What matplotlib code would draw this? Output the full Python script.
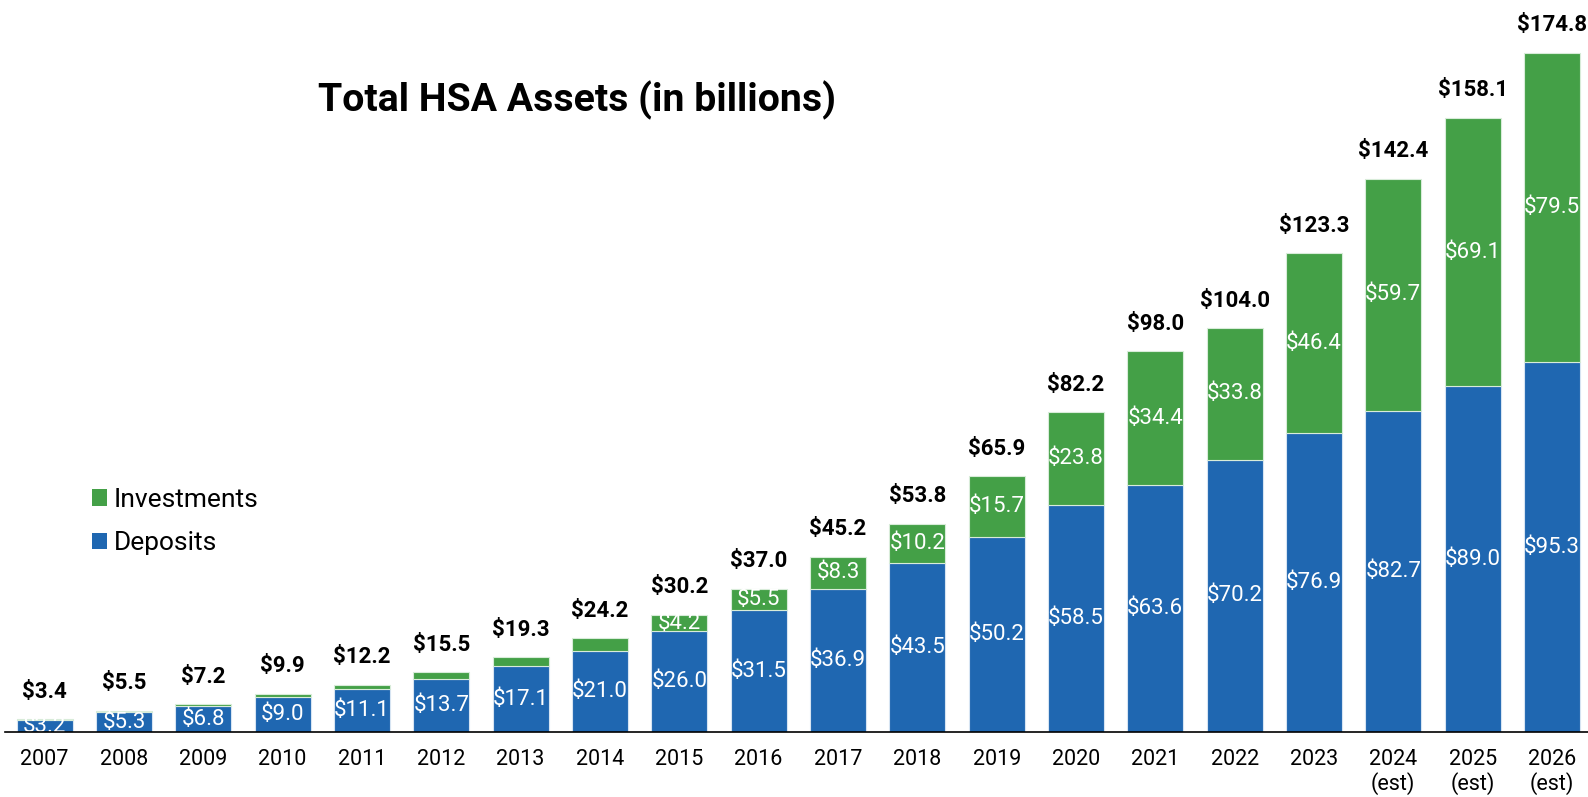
import matplotlib
matplotlib.use("Agg")
import matplotlib.pyplot as plt
import numpy as np

years = ["2007", "2008", "2009", "2010", "2011", "2012", "2013", "2014", "2015", "2016",
         "2017", "2018", "2019", "2020", "2021", "2022", "2023", "2024\n(est)", "2025\n(est)", "2026\n(est)"]
deposits = [3.2, 5.3, 6.8, 9.0, 11.1, 13.7, 17.1, 21.0, 26.0, 31.5,
            36.9, 43.5, 50.2, 58.5, 63.6, 70.2, 76.9, 82.7, 89.0, 95.3]
investments = [0.2, 0.2, 0.4, 0.9, 1.1, 1.8, 2.2, 3.2, 4.2, 5.5,
               8.3, 10.2, 15.7, 23.8, 34.4, 33.8, 46.4, 59.7, 69.1, 79.5]
totals = [3.4, 5.5, 7.2, 9.9, 12.2, 15.5, 19.3, 24.2, 30.2, 37.0,
          45.2, 53.8, 65.9, 82.2, 98.0, 104.0, 123.3, 142.4, 158.1, 174.8]

plt.rcParams['font.family'] = ['Roboto', 'DejaVu Sans']

BLUE = "#1f67b1"
GREEN = "#44a047"

W, H = 1588, 797
base_y = 732.3
step = 79.33
fig = plt.figure(figsize=(W / 100, H / 100), dpi=100)
ax = fig.add_axes([5 / W, 1 - base_y / H, 20 * step / W, base_y / H])

x = np.arange(len(years))
w = 0.706
b1 = ax.bar(x, deposits, w, color=BLUE, edgecolor="#d6e4f2", linewidth=0.8, label="Deposits", zorder=2)
b2 = ax.bar(x, investments, w, bottom=deposits, color=GREEN, edgecolor="#d8ecd9", linewidth=0.8,
            label="Investments", zorder=2)

for i in range(len(years)):
    ax.text(x[i], deposits[i] / 2, f"${deposits[i]:.1f}", ha="center", va="center",
            color="white", fontsize=16, clip_on=True, zorder=3)
    if investments[i] >= 4:
        ax.text(x[i], deposits[i] + investments[i] / 2, f"${investments[i]:.1f}", ha="center",
                va="center", color="white", fontsize=16, zorder=3)
    ax.annotate(f"${totals[i]:.1f}", (x[i], deposits[i] + investments[i]), xytext=(0, 15.5),
                textcoords="offset points", ha="center", va="baseline", fontsize=16,
                fontweight="bold", color="black", annotation_clip=False)

ax.set_xlim(-0.5, len(years) - 0.5)
ax.set_ylim(0, base_y / 3.886)
ax.set_xticks(x)
ax.set_xticklabels(years, fontsize=15.5, linespacing=1.1)
ax.tick_params(axis="x", length=0, pad=12)
ax.set_yticks([])
for s in ["left", "right", "top"]:
    ax.spines[s].set_visible(False)
ax.spines["bottom"].set_color("black")
ax.spines["bottom"].set_linewidth(1.2)
ax.spines["bottom"].set_zorder(4)

fig.text(577 / W, 1 - 100 / H, "Total HSA Assets (in billions)", ha="center", va="center",
         fontsize=28.3, fontweight="bold")

handles = [b2, b1]
leg = fig.legend(handles, ["Investments", "Deposits"], loc="upper left",
                 bbox_to_anchor=(68 / W, 1 - 464 / H), frameon=False, fontsize=19,
                 handlelength=0.58, handleheight=0.58, handletextpad=0.25, labelspacing=0.74)
for h in leg.legend_handles:
    h.set_edgecolor("none")

fig.savefig("out.png", dpi=100)
